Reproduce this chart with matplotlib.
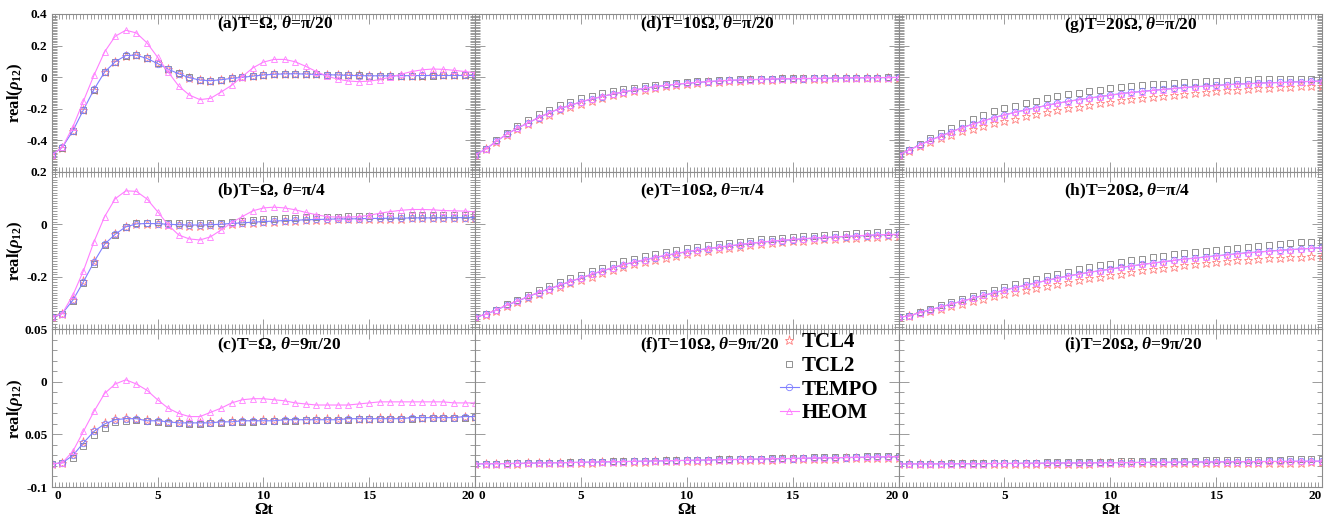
import numpy as np
import matplotlib
matplotlib.use('Agg')
import matplotlib.pyplot as plt
import matplotlib.transforms as mtrans
from matplotlib.ticker import MultipleLocator, FixedLocator, FixedFormatter

plt.rcParams['font.family'] = ['Liberation Serif', 'DejaVu Serif']
plt.rcParams['font.weight'] = 'bold'
plt.rcParams['mathtext.fontset'] = 'custom'
plt.rcParams['mathtext.rm'] = 'Liberation Serif:bold'
plt.rcParams['mathtext.it'] = 'Liberation Serif:italic:bold'
plt.rcParams['mathtext.bf'] = 'Liberation Serif:bold'

# time grid (Omega t)
t = np.linspace(0, 20, 41)

# ---------------- Panel (a) T=Omega, theta=pi/20 ----------------
TCL4_a = [-0.494,-0.447,-0.343,-0.210,-0.080,0.030,0.096,0.136,0.139,0.118,0.087,0.051,0.022,-0.003,-0.018,-0.023,-0.018,-0.009,-0.002,0.005,0.012,0.017,0.019,0.020,0.019,0.017,0.015,0.013,0.011,0.010,0.009,0.008,0.008,0.009,0.009,0.009,0.010,0.010,0.010,0.010,0.010]
TCL2_a = [-0.494,-0.448,-0.345,-0.212,-0.082,0.029,0.095,0.136,0.140,0.120,0.088,0.052,0.023,-0.002,-0.017,-0.022,-0.017,-0.009,-0.002,0.005,0.012,0.017,0.019,0.020,0.019,0.017,0.015,0.013,0.011,0.010,0.009,0.008,0.008,0.008,0.009,0.009,0.009,0.010,0.010,0.010,0.010]
TEMPO_a = [-0.494,-0.446,-0.341,-0.208,-0.078,0.032,0.097,0.137,0.139,0.118,0.086,0.050,0.021,-0.004,-0.019,-0.023,-0.017,-0.008,-0.002,0.006,0.013,0.018,0.020,0.021,0.019,0.017,0.015,0.013,0.011,0.009,0.008,0.008,0.008,0.009,0.009,0.010,0.010,0.010,0.010,0.010,0.010]
HEOM_a = [-0.494,-0.446,-0.316,-0.152,0.013,0.160,0.259,0.297,0.280,0.217,0.126,0.032,-0.057,-0.114,-0.143,-0.135,-0.095,-0.052,0.003,0.058,0.095,0.112,0.112,0.097,0.068,0.035,0.006,-0.013,-0.025,-0.029,-0.026,-0.016,0.000,0.018,0.035,0.046,0.051,0.049,0.043,0.035,0.028]

# ---------------- Panel (b) T=Omega, theta=pi/4 ----------------
TCL4_b = [-0.354,-0.340,-0.287,-0.216,-0.140,-0.074,-0.037,-0.010,0.000,0.002,0.000,-0.002,-0.004,-0.005,-0.005,-0.004,-0.002,0.001,0.003,0.006,0.008,0.010,0.012,0.013,0.015,0.016,0.017,0.018,0.018,0.019,0.020,0.020,0.021,0.021,0.022,0.022,0.022,0.023,0.023,0.023,0.023]
TCL2_b = [-0.354,-0.341,-0.293,-0.225,-0.150,-0.080,-0.040,-0.010,0.003,0.006,0.007,0.006,0.004,0.003,0.003,0.004,0.006,0.009,0.012,0.015,0.018,0.020,0.022,0.024,0.026,0.027,0.028,0.029,0.030,0.031,0.032,0.032,0.033,0.033,0.034,0.034,0.034,0.035,0.035,0.035,0.036]
TEMPO_b = [-0.354,-0.340,-0.289,-0.219,-0.143,-0.076,-0.038,-0.010,0.001,0.003,0.002,0.000,-0.002,-0.003,-0.003,-0.002,0.000,0.003,0.005,0.008,0.010,0.012,0.014,0.015,0.017,0.018,0.019,0.020,0.020,0.021,0.022,0.022,0.023,0.023,0.024,0.024,0.024,0.025,0.025,0.025,0.025]
HEOM_b = [-0.354,-0.340,-0.270,-0.177,-0.066,0.029,0.097,0.127,0.125,0.096,0.048,-0.003,-0.041,-0.056,-0.060,-0.048,-0.022,0.006,0.029,0.051,0.062,0.065,0.062,0.055,0.045,0.036,0.029,0.027,0.027,0.029,0.034,0.042,0.048,0.053,0.056,0.056,0.055,0.052,0.051,0.050,0.047]

# ---------------- Panel (c) T=Omega, theta=9pi/20 ----------------
TCL4_c = [-0.078,-0.077,-0.069,-0.057,-0.046,-0.039,-0.035,-0.034,-0.035,-0.036,-0.037,-0.038,-0.038,-0.039,-0.039,-0.038,-0.038,-0.037,-0.037,-0.037,-0.036,-0.036,-0.036,-0.036,-0.036,-0.035,-0.035,-0.035,-0.035,-0.035,-0.035,-0.034,-0.034,-0.034,-0.034,-0.034,-0.033,-0.033,-0.033,-0.033,-0.033]
TCL2_c = [-0.078,-0.077,-0.072,-0.061,-0.051,-0.044,-0.038,-0.037,-0.036,-0.037,-0.038,-0.039,-0.039,-0.040,-0.040,-0.039,-0.039,-0.038,-0.038,-0.038,-0.037,-0.037,-0.037,-0.037,-0.036,-0.036,-0.036,-0.036,-0.036,-0.035,-0.035,-0.035,-0.035,-0.035,-0.035,-0.034,-0.034,-0.034,-0.034,-0.034,-0.033]
TEMPO_c = [-0.078,-0.077,-0.070,-0.058,-0.047,-0.040,-0.036,-0.035,-0.035,-0.037,-0.037,-0.038,-0.039,-0.039,-0.039,-0.039,-0.038,-0.038,-0.037,-0.037,-0.037,-0.037,-0.036,-0.036,-0.036,-0.036,-0.036,-0.036,-0.035,-0.035,-0.035,-0.035,-0.035,-0.035,-0.034,-0.034,-0.034,-0.034,-0.034,-0.033,-0.033]
HEOM_c = [-0.078,-0.077,-0.066,-0.047,-0.028,-0.011,-0.002,0.002,-0.002,-0.008,-0.017,-0.025,-0.030,-0.033,-0.033,-0.029,-0.025,-0.020,-0.017,-0.016,-0.016,-0.017,-0.018,-0.020,-0.021,-0.022,-0.022,-0.022,-0.022,-0.021,-0.020,-0.019,-0.019,-0.019,-0.019,-0.019,-0.019,-0.019,-0.020,-0.020,-0.020]

# ---------------- Panel (d) T=10 Omega, theta=pi/20 ----------------
TCL4_d = [-0.494,-0.459,-0.412,-0.368,-0.332,-0.300,-0.268,-0.239,-0.212,-0.190,-0.168,-0.149,-0.133,-0.116,-0.103,-0.090,-0.079,-0.068,-0.059,-0.051,-0.045,-0.039,-0.033,-0.029,-0.025,-0.022,-0.020,-0.018,-0.016,-0.014,-0.013,-0.012,-0.011,-0.010,-0.009,-0.008,-0.007,-0.006,-0.005,-0.005,-0.004]
TCL2_d = [-0.494,-0.455,-0.402,-0.352,-0.310,-0.272,-0.236,-0.207,-0.180,-0.157,-0.135,-0.118,-0.103,-0.089,-0.078,-0.067,-0.058,-0.049,-0.042,-0.036,-0.030,-0.026,-0.022,-0.019,-0.016,-0.014,-0.012,-0.011,-0.010,-0.009,-0.008,-0.007,-0.006,-0.005,-0.005,-0.004,-0.004,-0.003,-0.003,-0.002,-0.002]
TEMPO_d = [-0.494,-0.457,-0.408,-0.362,-0.324,-0.291,-0.257,-0.227,-0.200,-0.179,-0.158,-0.139,-0.124,-0.107,-0.095,-0.082,-0.072,-0.061,-0.053,-0.046,-0.040,-0.034,-0.029,-0.025,-0.021,-0.019,-0.017,-0.015,-0.013,-0.012,-0.011,-0.010,-0.009,-0.008,-0.007,-0.006,-0.005,-0.004,-0.004,-0.003,-0.002]
HEOM_d = [-0.494,-0.457,-0.407,-0.361,-0.323,-0.290,-0.256,-0.226,-0.199,-0.178,-0.157,-0.138,-0.123,-0.106,-0.094,-0.081,-0.071,-0.060,-0.052,-0.045,-0.039,-0.033,-0.028,-0.024,-0.020,-0.018,-0.016,-0.014,-0.012,-0.011,-0.010,-0.009,-0.008,-0.007,-0.006,-0.005,-0.004,-0.004,-0.003,-0.003,-0.002]

# ---------------- Panel (e) T=10 Omega, theta=pi/4 ----------------
TCL4_e = [-0.354,-0.344,-0.329,-0.311,-0.297,-0.281,-0.266,-0.252,-0.239,-0.225,-0.212,-0.199,-0.186,-0.174,-0.162,-0.153,-0.144,-0.135,-0.127,-0.120,-0.113,-0.107,-0.101,-0.095,-0.090,-0.085,-0.080,-0.076,-0.072,-0.069,-0.065,-0.062,-0.059,-0.057,-0.055,-0.053,-0.051,-0.049,-0.047,-0.046,-0.045]
TCL2_e = [-0.354,-0.342,-0.325,-0.304,-0.287,-0.269,-0.251,-0.236,-0.221,-0.206,-0.192,-0.178,-0.165,-0.152,-0.141,-0.131,-0.122,-0.113,-0.105,-0.098,-0.092,-0.086,-0.080,-0.075,-0.070,-0.066,-0.062,-0.058,-0.055,-0.052,-0.049,-0.046,-0.044,-0.041,-0.039,-0.037,-0.035,-0.033,-0.031,-0.030,-0.029]
TEMPO_e = [-0.354,-0.343,-0.327,-0.308,-0.293,-0.276,-0.260,-0.246,-0.232,-0.218,-0.205,-0.191,-0.178,-0.166,-0.154,-0.145,-0.136,-0.127,-0.119,-0.112,-0.105,-0.099,-0.093,-0.088,-0.083,-0.078,-0.073,-0.069,-0.065,-0.062,-0.059,-0.056,-0.053,-0.051,-0.049,-0.047,-0.045,-0.043,-0.041,-0.040,-0.039]
HEOM_e = [-0.354,-0.343,-0.326,-0.307,-0.292,-0.275,-0.259,-0.245,-0.231,-0.217,-0.204,-0.190,-0.177,-0.165,-0.153,-0.144,-0.135,-0.126,-0.118,-0.111,-0.104,-0.098,-0.092,-0.087,-0.082,-0.077,-0.072,-0.068,-0.064,-0.061,-0.058,-0.055,-0.052,-0.050,-0.048,-0.046,-0.044,-0.042,-0.040,-0.039,-0.038]

# ---------------- Panel (f) T=10 Omega, theta=9pi/20 ----------------
TCL4_f = [-0.0780,-0.0780,-0.0779,-0.0778,-0.0777,-0.0776,-0.0775,-0.0773,-0.0772,-0.0770,-0.0769,-0.0767,-0.0766,-0.0764,-0.0762,-0.0761,-0.0759,-0.0757,-0.0755,-0.0754,-0.0752,-0.0750,-0.0749,-0.0747,-0.0745,-0.0744,-0.0742,-0.0740,-0.0739,-0.0737,-0.0736,-0.0734,-0.0733,-0.0731,-0.0730,-0.0728,-0.0727,-0.0725,-0.0724,-0.0723,-0.0721]
TCL2_f = [-0.0780,-0.0779,-0.0777,-0.0776,-0.0774,-0.0773,-0.0771,-0.0769,-0.0767,-0.0765,-0.0763,-0.0761,-0.0759,-0.0757,-0.0755,-0.0753,-0.0751,-0.0749,-0.0747,-0.0745,-0.0743,-0.0741,-0.0739,-0.0737,-0.0735,-0.0733,-0.0731,-0.0729,-0.0727,-0.0725,-0.0723,-0.0721,-0.0719,-0.0717,-0.0715,-0.0713,-0.0711,-0.0709,-0.0707,-0.0705,-0.0703]
TEMPO_f = [-0.0780,-0.0779,-0.0778,-0.0777,-0.0775,-0.0774,-0.0772,-0.0770,-0.0769,-0.0767,-0.0765,-0.0763,-0.0762,-0.0760,-0.0758,-0.0756,-0.0754,-0.0752,-0.0751,-0.0749,-0.0747,-0.0745,-0.0743,-0.0741,-0.0739,-0.0738,-0.0736,-0.0734,-0.0732,-0.0730,-0.0729,-0.0727,-0.0725,-0.0723,-0.0722,-0.0720,-0.0718,-0.0717,-0.0715,-0.0713,-0.0712]
HEOM_f = [-0.0780,-0.0779,-0.0778,-0.0777,-0.0775,-0.0774,-0.0772,-0.0770,-0.0769,-0.0767,-0.0765,-0.0763,-0.0761,-0.0759,-0.0758,-0.0756,-0.0754,-0.0752,-0.0750,-0.0748,-0.0746,-0.0744,-0.0742,-0.0741,-0.0739,-0.0737,-0.0735,-0.0733,-0.0731,-0.0730,-0.0728,-0.0726,-0.0724,-0.0722,-0.0721,-0.0719,-0.0717,-0.0716,-0.0714,-0.0712,-0.0711]

# ---------------- Panel (g) T=20 Omega, theta=pi/20 ----------------
TCL4_g = [-0.494,-0.466,-0.437,-0.411,-0.387,-0.366,-0.345,-0.327,-0.310,-0.293,-0.278,-0.263,-0.248,-0.235,-0.223,-0.210,-0.198,-0.187,-0.177,-0.167,-0.158,-0.148,-0.139,-0.131,-0.124,-0.118,-0.112,-0.105,-0.099,-0.093,-0.088,-0.084,-0.080,-0.076,-0.072,-0.068,-0.065,-0.062,-0.059,-0.057,-0.055]
TCL2_g = [-0.494,-0.460,-0.423,-0.388,-0.356,-0.323,-0.290,-0.264,-0.240,-0.218,-0.198,-0.181,-0.164,-0.149,-0.135,-0.121,-0.109,-0.098,-0.088,-0.080,-0.072,-0.065,-0.059,-0.052,-0.046,-0.042,-0.038,-0.033,-0.029,-0.027,-0.025,-0.022,-0.019,-0.017,-0.015,-0.014,-0.013,-0.012,-0.011,-0.010,-0.008]
TEMPO_g = [-0.494,-0.463,-0.430,-0.400,-0.373,-0.347,-0.320,-0.299,-0.278,-0.257,-0.240,-0.223,-0.208,-0.194,-0.179,-0.166,-0.154,-0.143,-0.133,-0.124,-0.114,-0.105,-0.097,-0.091,-0.084,-0.078,-0.072,-0.066,-0.061,-0.057,-0.053,-0.048,-0.044,-0.042,-0.038,-0.036,-0.034,-0.032,-0.029,-0.027,-0.025]
HEOM_g = [-0.494,-0.463,-0.431,-0.401,-0.374,-0.348,-0.321,-0.300,-0.279,-0.258,-0.241,-0.224,-0.209,-0.195,-0.180,-0.167,-0.155,-0.144,-0.134,-0.125,-0.115,-0.106,-0.098,-0.092,-0.085,-0.079,-0.073,-0.067,-0.062,-0.058,-0.054,-0.049,-0.045,-0.043,-0.039,-0.037,-0.035,-0.033,-0.030,-0.028,-0.026]

# ---------------- Panel (h) T=20 Omega, theta=pi/4 ----------------
TCL4_h = [-0.354,-0.350,-0.339,-0.330,-0.321,-0.311,-0.302,-0.293,-0.284,-0.275,-0.266,-0.258,-0.250,-0.242,-0.234,-0.226,-0.219,-0.212,-0.206,-0.200,-0.194,-0.188,-0.182,-0.176,-0.171,-0.166,-0.161,-0.157,-0.152,-0.148,-0.145,-0.141,-0.138,-0.135,-0.132,-0.129,-0.127,-0.125,-0.123,-0.121,-0.120]
TCL2_h = [-0.354,-0.348,-0.334,-0.321,-0.309,-0.296,-0.284,-0.272,-0.260,-0.249,-0.238,-0.227,-0.217,-0.207,-0.198,-0.189,-0.180,-0.172,-0.164,-0.157,-0.150,-0.143,-0.137,-0.131,-0.125,-0.120,-0.115,-0.110,-0.105,-0.101,-0.097,-0.093,-0.089,-0.085,-0.082,-0.079,-0.076,-0.073,-0.069,-0.066,-0.063]
TEMPO_h = [-0.354,-0.349,-0.336,-0.325,-0.315,-0.303,-0.293,-0.282,-0.271,-0.261,-0.251,-0.241,-0.232,-0.223,-0.214,-0.205,-0.197,-0.190,-0.183,-0.177,-0.171,-0.164,-0.159,-0.153,-0.148,-0.143,-0.138,-0.132,-0.129,-0.124,-0.120,-0.116,-0.112,-0.108,-0.106,-0.102,-0.099,-0.097,-0.094,-0.092,-0.088]
HEOM_h = [-0.354,-0.349,-0.336,-0.325,-0.315,-0.303,-0.293,-0.282,-0.271,-0.261,-0.251,-0.241,-0.232,-0.223,-0.214,-0.205,-0.197,-0.190,-0.183,-0.177,-0.171,-0.164,-0.159,-0.153,-0.148,-0.143,-0.138,-0.133,-0.129,-0.125,-0.121,-0.117,-0.113,-0.109,-0.106,-0.103,-0.100,-0.097,-0.094,-0.092,-0.089]

# ---------------- Panel (i) T=20 Omega, theta=9pi/20 ----------------
TCL4_i = [-0.0780,-0.0781,-0.0781,-0.0782,-0.0782,-0.0782,-0.0782,-0.0782,-0.0781,-0.0781,-0.0781,-0.0780,-0.0780,-0.0779,-0.0779,-0.0778,-0.0778,-0.0777,-0.0777,-0.0776,-0.0776,-0.0775,-0.0775,-0.0774,-0.0774,-0.0773,-0.0773,-0.0772,-0.0772,-0.0771,-0.0771,-0.0770,-0.0770,-0.0769,-0.0769,-0.0768,-0.0768,-0.0767,-0.0767,-0.0766,-0.0766]
TCL2_i = [-0.0780,-0.0780,-0.0779,-0.0778,-0.0777,-0.0776,-0.0775,-0.0774,-0.0773,-0.0772,-0.0771,-0.0770,-0.0768,-0.0767,-0.0766,-0.0765,-0.0764,-0.0762,-0.0761,-0.0760,-0.0759,-0.0757,-0.0756,-0.0755,-0.0754,-0.0752,-0.0751,-0.0750,-0.0749,-0.0747,-0.0746,-0.0745,-0.0744,-0.0742,-0.0741,-0.0740,-0.0739,-0.0738,-0.0736,-0.0735,-0.0734]
TEMPO_i = [-0.0780,-0.0780,-0.0780,-0.0780,-0.0779,-0.0779,-0.0778,-0.0778,-0.0777,-0.0776,-0.0776,-0.0775,-0.0774,-0.0774,-0.0773,-0.0772,-0.0771,-0.0771,-0.0770,-0.0769,-0.0768,-0.0768,-0.0767,-0.0766,-0.0765,-0.0765,-0.0764,-0.0763,-0.0762,-0.0762,-0.0761,-0.0760,-0.0759,-0.0759,-0.0758,-0.0757,-0.0757,-0.0756,-0.0755,-0.0755,-0.0754]
HEOM_i = [-0.0780,-0.0780,-0.0780,-0.0780,-0.0779,-0.0779,-0.0778,-0.0778,-0.0777,-0.0776,-0.0776,-0.0775,-0.0774,-0.0774,-0.0773,-0.0772,-0.0771,-0.0771,-0.0770,-0.0769,-0.0768,-0.0768,-0.0767,-0.0766,-0.0765,-0.0765,-0.0764,-0.0763,-0.0762,-0.0762,-0.0761,-0.0760,-0.0759,-0.0759,-0.0758,-0.0757,-0.0757,-0.0756,-0.0755,-0.0755,-0.0754]

titles = [[r'(a)T=Ω, $\theta$=π/20', r'(d)T=10Ω, $\theta$=π/20', r'(g)T=20Ω, $\theta$=π/20'],
          [r'(b)T=Ω, $\theta$=π/4',  r'(e)T=10Ω, $\theta$=π/4',  r'(h)T=20Ω, $\theta$=π/4'],
          [r'(c)T=Ω, $\theta$=9π/20', r'(f)T=10Ω, $\theta$=9π/20', r'(i)T=20Ω, $\theta$=9π/20']]

data = [[(TCL4_a, TCL2_a, TEMPO_a, HEOM_a), (TCL4_d, TCL2_d, TEMPO_d, HEOM_d), (TCL4_g, TCL2_g, TEMPO_g, HEOM_g)],
        [(TCL4_b, TCL2_b, TEMPO_b, HEOM_b), (TCL4_e, TCL2_e, TEMPO_e, HEOM_e), (TCL4_h, TCL2_h, TEMPO_h, HEOM_h)],
        [(TCL4_c, TCL2_c, TEMPO_c, HEOM_c), (TCL4_f, TCL2_f, TEMPO_f, HEOM_f), (TCL4_i, TCL2_i, TEMPO_i, HEOM_i)]]

row_ylim = [(-0.6, 0.4), (-0.4, 0.2), (-0.1, 0.05)]
row_yticks = [[-0.6, -0.4, -0.2, 0.0, 0.2, 0.4], [-0.4, -0.2, 0.0, 0.2], [-0.1, -0.05, 0.0, 0.05]]
row_ylabels = [['', '-0.4', '-0.2', '0', '0.2', '0.4'], ['', '-0.2', '0', '0.2'], ['-0.1', '0.05', '0', '0.05']]
x_ticks = [0, 5, 10, 15, 20]
x_ticklabels = ['0', '5', '10', '15', '20']
title_y = [0.993, 0.937, 0.956]
labels = ['TCL4', 'TCL2', 'TEMPO', 'HEOM']

C_TCL4 = '#ff7f7f'
C_TCL2 = '#7f7f7f'
C_TEMPO = '#7f7fff'
C_HEOM = '#ff7fff'
SPINE = '#8c8c8c'

fig = plt.figure(figsize=(13.39, 5.17), dpi=100)
L, R, B, T = 51.7/1339, 1322/1339, 1-487/517, 1-14/517
axes = fig.subplots(3, 3, gridspec_kw=dict(left=L, right=R, bottom=B, top=T, wspace=0, hspace=0))

for r in range(3):
    for c in range(3):
        ax = axes[r, c]
        tcl4, tcl2, tempo, heom = data[r][c]
        ax.plot(t, tcl4, ls='none', marker='*', mfc='none', mec=C_TCL4, ms=6.5, mew=0.6, label=labels[0])
        ax.plot(t, tcl2, ls='none', marker='s', mfc='none', mec=C_TCL2, ms=4.3, mew=0.6, label=labels[1])
        ax.plot(t, tempo, color=C_TEMPO, lw=0.8, marker='o', mfc='none', mec=C_TEMPO, ms=4.6, mew=0.6, label=labels[2])
        ax.plot(t, heom, color=C_HEOM, lw=0.8, marker='^', mfc='none', mec=C_HEOM, ms=5.0, mew=0.6, label=labels[3])
        ax.set_xlim(0, 20)
        ax.set_ylim(*row_ylim[r])
        ax.yaxis.set_major_locator(FixedLocator(row_yticks[r]))
        ax.yaxis.set_major_formatter(FixedFormatter(row_ylabels[r]))
        ax.yaxis.set_minor_locator(MultipleLocator(0.01))
        ax.xaxis.set_major_locator(FixedLocator(x_ticks))
        ax.xaxis.set_minor_locator(MultipleLocator(1/6))
        for s in ax.spines.values():
            s.set_color(SPINE)
            s.set_linewidth(0.8)
        ax.tick_params(which='both', direction='in', top=True, right=True, color=SPINE, width=0.6)
        ax.tick_params(which='major', length=7, labelsize=9.5, pad=3)
        ax.tick_params(which='minor', length=3.5)
        if c > 0:
            ax.tick_params(labelleft=False)
        if r < 2:
            ax.tick_params(labelbottom=False)
        else:
            ax.xaxis.set_major_formatter(FixedFormatter(x_ticklabels))
            ax.tick_params(axis='x', pad=2)
            tl = ax.get_xticklabels()
            tl[0].set_ha('left')
            tl[0].set_transform(tl[0].get_transform() + mtrans.ScaledTranslation(3/100, 0, fig.dpi_scale_trans))
            tl[-1].set_ha('right')
            ax.set_xlabel('Ωt', fontsize=12, fontweight='bold', labelpad=0)
        for lab in ax.get_yticklabels() + ax.get_xticklabels():
            lab.set_fontweight('bold')
        ax.text(0.39, title_y[r], titles[r][c], transform=ax.transAxes, ha='left', va='top',
                fontsize=12.5, fontweight='bold')

for r in range(3):
    pos = axes[r, 0].get_position()
    fig.text(15/1339, (pos.y0 + pos.y1)/2, r'real($\rho_{12}$)', rotation=90, ha='center', va='center',
             fontsize=12, fontweight='bold')

axf = axes[2, 1]
handles, labs = axf.get_legend_handles_labels()
leg = axf.legend(handles, labs, loc='upper left', bbox_to_anchor=(0.72, 0.98), frameon=False,
                 prop=dict(family='Liberation Serif', weight='bold', size=15),
                 handlelength=0.9, handletextpad=0.15, labelspacing=0.17, borderpad=0, borderaxespad=0)

fig.savefig('out.png', dpi=100)
